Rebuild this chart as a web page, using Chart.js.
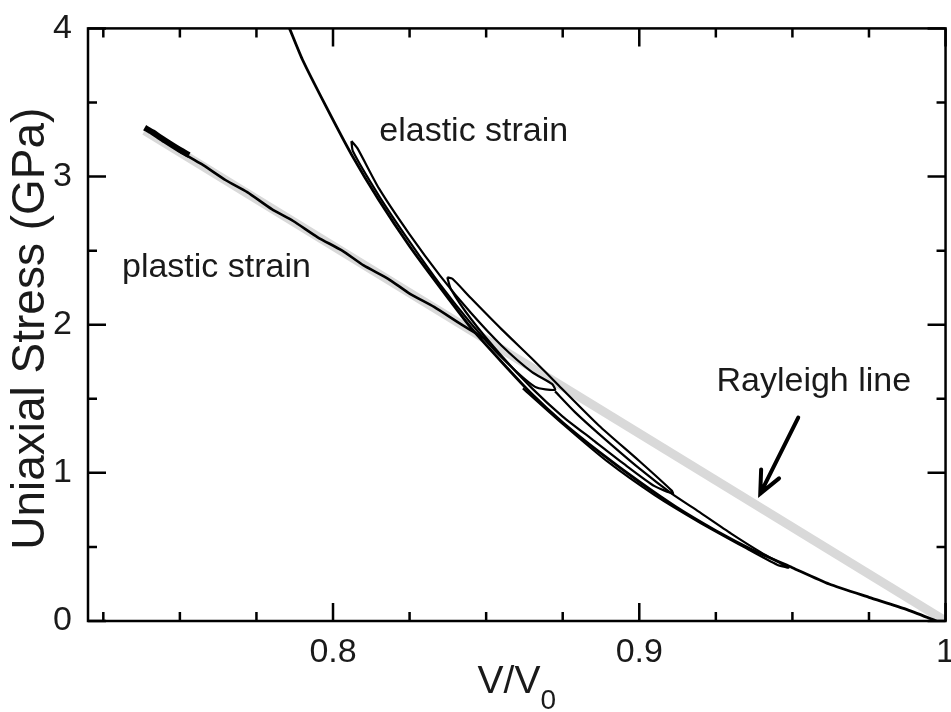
<!DOCTYPE html>
<html lang="en">
<head>
<meta charset="UTF-8">
<title>Uniaxial Stress vs V/V0</title>
<script src="https://cdn.jsdelivr.net/npm/chart.js"></script>
<style>
  html, body { margin: 0; padding: 0; background: #fff; overflow: hidden; }
  .chart-box { position: relative; width: 958px; height: 712px; }
</style>
</head>
<body>
<div class="chart-box"><canvas id="stress_chart"></canvas></div>
<script>
// tick values / labels
const xTickValues = [0.8, 0.9, 1.0];
const xTickLabels = ['0.8', '0.9', '1'];
const xMinorTicks = [0.725, 0.75, 0.775, 0.825, 0.85, 0.875, 0.925, 0.95, 0.975];
const yTickValues = [0, 1, 2, 3, 4];
const yTickLabels = ['0', '1', '2', '3', '4'];
const yMinorTicks = [0.5, 1.5, 2.5, 3.5];

// Rayleigh line (grey band)
const rayleighX = [0.7385, 1.0];
const rayleighY = [3.31, 0.0];

// plastic strain path
const plasticX = [0.7392, 0.7405, 0.745, 0.750, 0.757, 0.765, 0.772, 0.780, 0.787, 0.795, 0.803, 0.810, 0.818, 0.825, 0.833, 0.842, 0.850];
const plasticY = [3.33, 3.30, 3.24, 3.17, 3.085, 2.975, 2.895, 2.78, 2.70, 2.59, 2.50, 2.40, 2.31, 2.21, 2.12, 2.00, 1.90];
const plasticHeadX = [0.7385, 0.741, 0.745, 0.750, 0.753];
const plasticHeadY = [3.33, 3.30, 3.245, 3.18, 3.145];

// elastic curve
const elasticX = [0.7858, 0.790, 0.7978, 0.806, 0.815, 0.825, 0.835, 0.845, 0.855, 0.865, 0.875, 0.887, 0.900, 0.912, 0.925, 0.937, 0.950, 0.962, 0.975, 0.987, 0.997];
const elasticY = [4.00, 3.79, 3.47, 3.15, 2.84, 2.53, 2.25, 1.98, 1.75, 1.53, 1.34, 1.14, 0.94, 0.77, 0.61, 0.48, 0.36, 0.25, 0.16, 0.08, 0.00];

// elastic loops
const loopAX = [0.806, 0.808, 0.815, 0.825, 0.835, 0.845, 0.855, 0.865, 0.8715, 0.8725, 0.866, 0.855, 0.845, 0.835, 0.825, 0.815, 0.8065, 0.806];
const loopAY = [3.24, 3.19, 2.92, 2.61, 2.33, 2.08, 1.86, 1.68, 1.60, 1.56, 1.58, 1.78, 2.01, 2.27, 2.56, 2.87, 3.17, 3.24];
const loopBX = [0.8373, 0.839, 0.845, 0.855, 0.865, 0.8737, 0.8868, 0.900, 0.9106, 0.911, 0.905, 0.895, 0.885, 0.875, 0.865, 0.855, 0.845, 0.8385, 0.8373];
const loopBY = [2.32, 2.31, 2.18, 1.97, 1.77, 1.59, 1.32, 1.08, 0.88, 0.86, 0.91, 1.06, 1.22, 1.38, 1.57, 1.79, 2.04, 2.24, 2.32];
const loopCX = [0.8725, 0.879, 0.887, 0.900, 0.9106, 0.9193, 0.930, 0.940, 0.9487, 0.945, 0.935, 0.9193, 0.905, 0.890, 0.875, 0.862];
const loopCY = [1.55, 1.41, 1.26, 1.03, 0.86, 0.74, 0.59, 0.46, 0.36, 0.38, 0.49, 0.67, 0.85, 1.07, 1.33, 1.57];

const FONT = '"Liberation Sans", Arial, Helvetica, sans-serif';
const TEXT = '#1a1a1a';

const pts = (xs, ys) => xs.map((x, i) => ({ x: x, y: ys[i] }));

function blackLine(label, xs, ys, width) {
    return {
        label: label,
        data: pts(xs, ys),
        showLine: true,
        borderColor: '#000',
        borderWidth: width || 2.5,
        pointRadius: 0,
        tension: 0.2,
        order: 1
    };
}

// annotations: text, x, y (data units, left / baseline)
const notes = [
    ['elastic strain', 0.8151, 3.24],
    ['plastic strain', 0.7311, 2.32],
    ['Rayleigh line', 0.9252, 1.553]
];

const decorPlugin = {
    id: 'decor',
    afterDatasetsDraw(chart) {
        const { ctx, chartArea: a, scales } = chart;
        const sx = scales.x, sy = scales.y;
        ctx.save();
        ctx.strokeStyle = '#000';
        ctx.lineWidth = 2.5;
        ctx.strokeRect(a.left, a.top, a.right - a.left, a.bottom - a.top);

        // inward ticks on all four sides
        ctx.beginPath();
        const xt = (v, len) => {
            const p = sx.getPixelForValue(v);
            ctx.moveTo(p, a.bottom); ctx.lineTo(p, a.bottom - len);
            ctx.moveTo(p, a.top); ctx.lineTo(p, a.top + len);
        };
        const yt = (v, len) => {
            const p = sy.getPixelForValue(v);
            ctx.moveTo(a.left, p); ctx.lineTo(a.left + len, p);
            ctx.moveTo(a.right, p); ctx.lineTo(a.right - len, p);
        };
        xTickValues.forEach(v => xt(v, 18));
        xMinorTicks.forEach(v => xt(v, 9));
        yTickValues.forEach(v => yt(v, 18));
        yMinorTicks.forEach(v => yt(v, 9));
        ctx.stroke();

        // arrow to the Rayleigh line
        const tail = { x: sx.getPixelForValue(0.9519), y: sy.getPixelForValue(1.373) };
        const tip = { x: sx.getPixelForValue(0.9395), y: sy.getPixelForValue(0.86) };
        const dx = tip.x - tail.x, dy = tip.y - tail.y;
        const len = Math.hypot(dx, dy);
        const ux = dx / len, uy = dy / len;
        ctx.lineWidth = 4;
        ctx.lineCap = 'round';
        ctx.beginPath();
        ctx.moveTo(tail.x, tail.y);
        ctx.lineTo(tip.x, tip.y);
        ctx.moveTo(tip.x - 22 * ux + 10 * uy, tip.y - 22 * uy - 10 * ux);
        ctx.lineTo(tip.x, tip.y);
        ctx.lineTo(tip.x - 22 * ux - 10 * uy, tip.y - 22 * uy + 10 * ux);
        ctx.stroke();

        // annotation texts
        ctx.fillStyle = TEXT;
        ctx.font = '34px ' + FONT;
        ctx.textAlign = 'left';
        ctx.textBaseline = 'alphabetic';
        notes.forEach(n => {
            ctx.fillText(n[0], sx.getPixelForValue(n[1]), sy.getPixelForValue(n[2]));
        });

        // x title V/V0 with subscript
        ctx.font = '39px ' + FONT;
        const main = 'V/V';
        const wMain = ctx.measureText(main).width;
        ctx.font = '28px ' + FONT;
        const wSub = ctx.measureText('0').width;
        const x0 = (a.left + a.right) / 2 - (wMain + wSub) / 2;
        ctx.font = '39px ' + FONT;
        ctx.fillText(main, x0, a.bottom + 72);
        ctx.font = '28px ' + FONT;
        ctx.fillText('0', x0 + wMain, a.bottom + 88);

        // y title
        ctx.translate(31, (a.top + a.bottom) / 2 + 4);
        ctx.rotate(-Math.PI / 2);
        ctx.font = '46px ' + FONT;
        ctx.textAlign = 'center';
        ctx.textBaseline = 'middle';
        ctx.fillText('Uniaxial Stress (GPa)', 0, 0);
        ctx.restore();
    }
};

const ctx = document.getElementById('stress_chart').getContext('2d');
const stressChart = new Chart(ctx, {
    type: 'scatter',
    data: {
        datasets: [
            blackLine('plastic strain', plasticX, plasticY, 2.6),
            blackLine('plastic head', plasticHeadX, plasticHeadY, 6),
            blackLine('elastic', elasticX, elasticY, 2.8),
            blackLine('loop A', loopAX, loopAY, 2.2),
            blackLine('loop B', loopBX, loopBY, 2.2),
            blackLine('loop C', loopCX, loopCY, 2.2),
            {
                label: 'Rayleigh line',
                data: pts(rayleighX, rayleighY),
                showLine: true,
                borderColor: '#d9d9d9',
                borderWidth: 9,
                pointRadius: 0,
                order: 10
            }
        ]
    },
    options: {
        responsive: true,
        maintainAspectRatio: false,
        animation: false,
        layout: { padding: { top: 21, right: 11, left: 0, bottom: 0 } },
        plugins: {
            legend: { display: false },
            tooltip: { enabled: false }
        },
        scales: {
            x: {
                type: 'linear',
                min: 0.72,
                max: 1.0,
                grid: { display: false },
                border: { display: false },
                afterBuildTicks: s => { s.ticks = xTickValues.map(v => ({ value: v })); },
                afterFit: s => { s.height = 91; },
                ticks: {
                    autoSkip: false,
                    maxRotation: 0,
                    padding: 3,
                    color: TEXT,
                    font: { family: FONT, size: 34 },
                    callback: (v, i) => xTickLabels[i]
                }
            },
            y: {
                type: 'linear',
                min: 0,
                max: 4,
                grid: { display: false },
                border: { display: false },
                afterBuildTicks: s => { s.ticks = yTickValues.map(v => ({ value: v })); },
                afterFit: s => { s.width = 88; },
                ticks: {
                    autoSkip: false,
                    padding: 8,
                    color: TEXT,
                    font: { family: FONT, size: 34 },
                    callback: (v, i) => yTickLabels[i]
                }
            }
        }
    },
    plugins: [decorPlugin]
});
</script>
</body>
</html>
